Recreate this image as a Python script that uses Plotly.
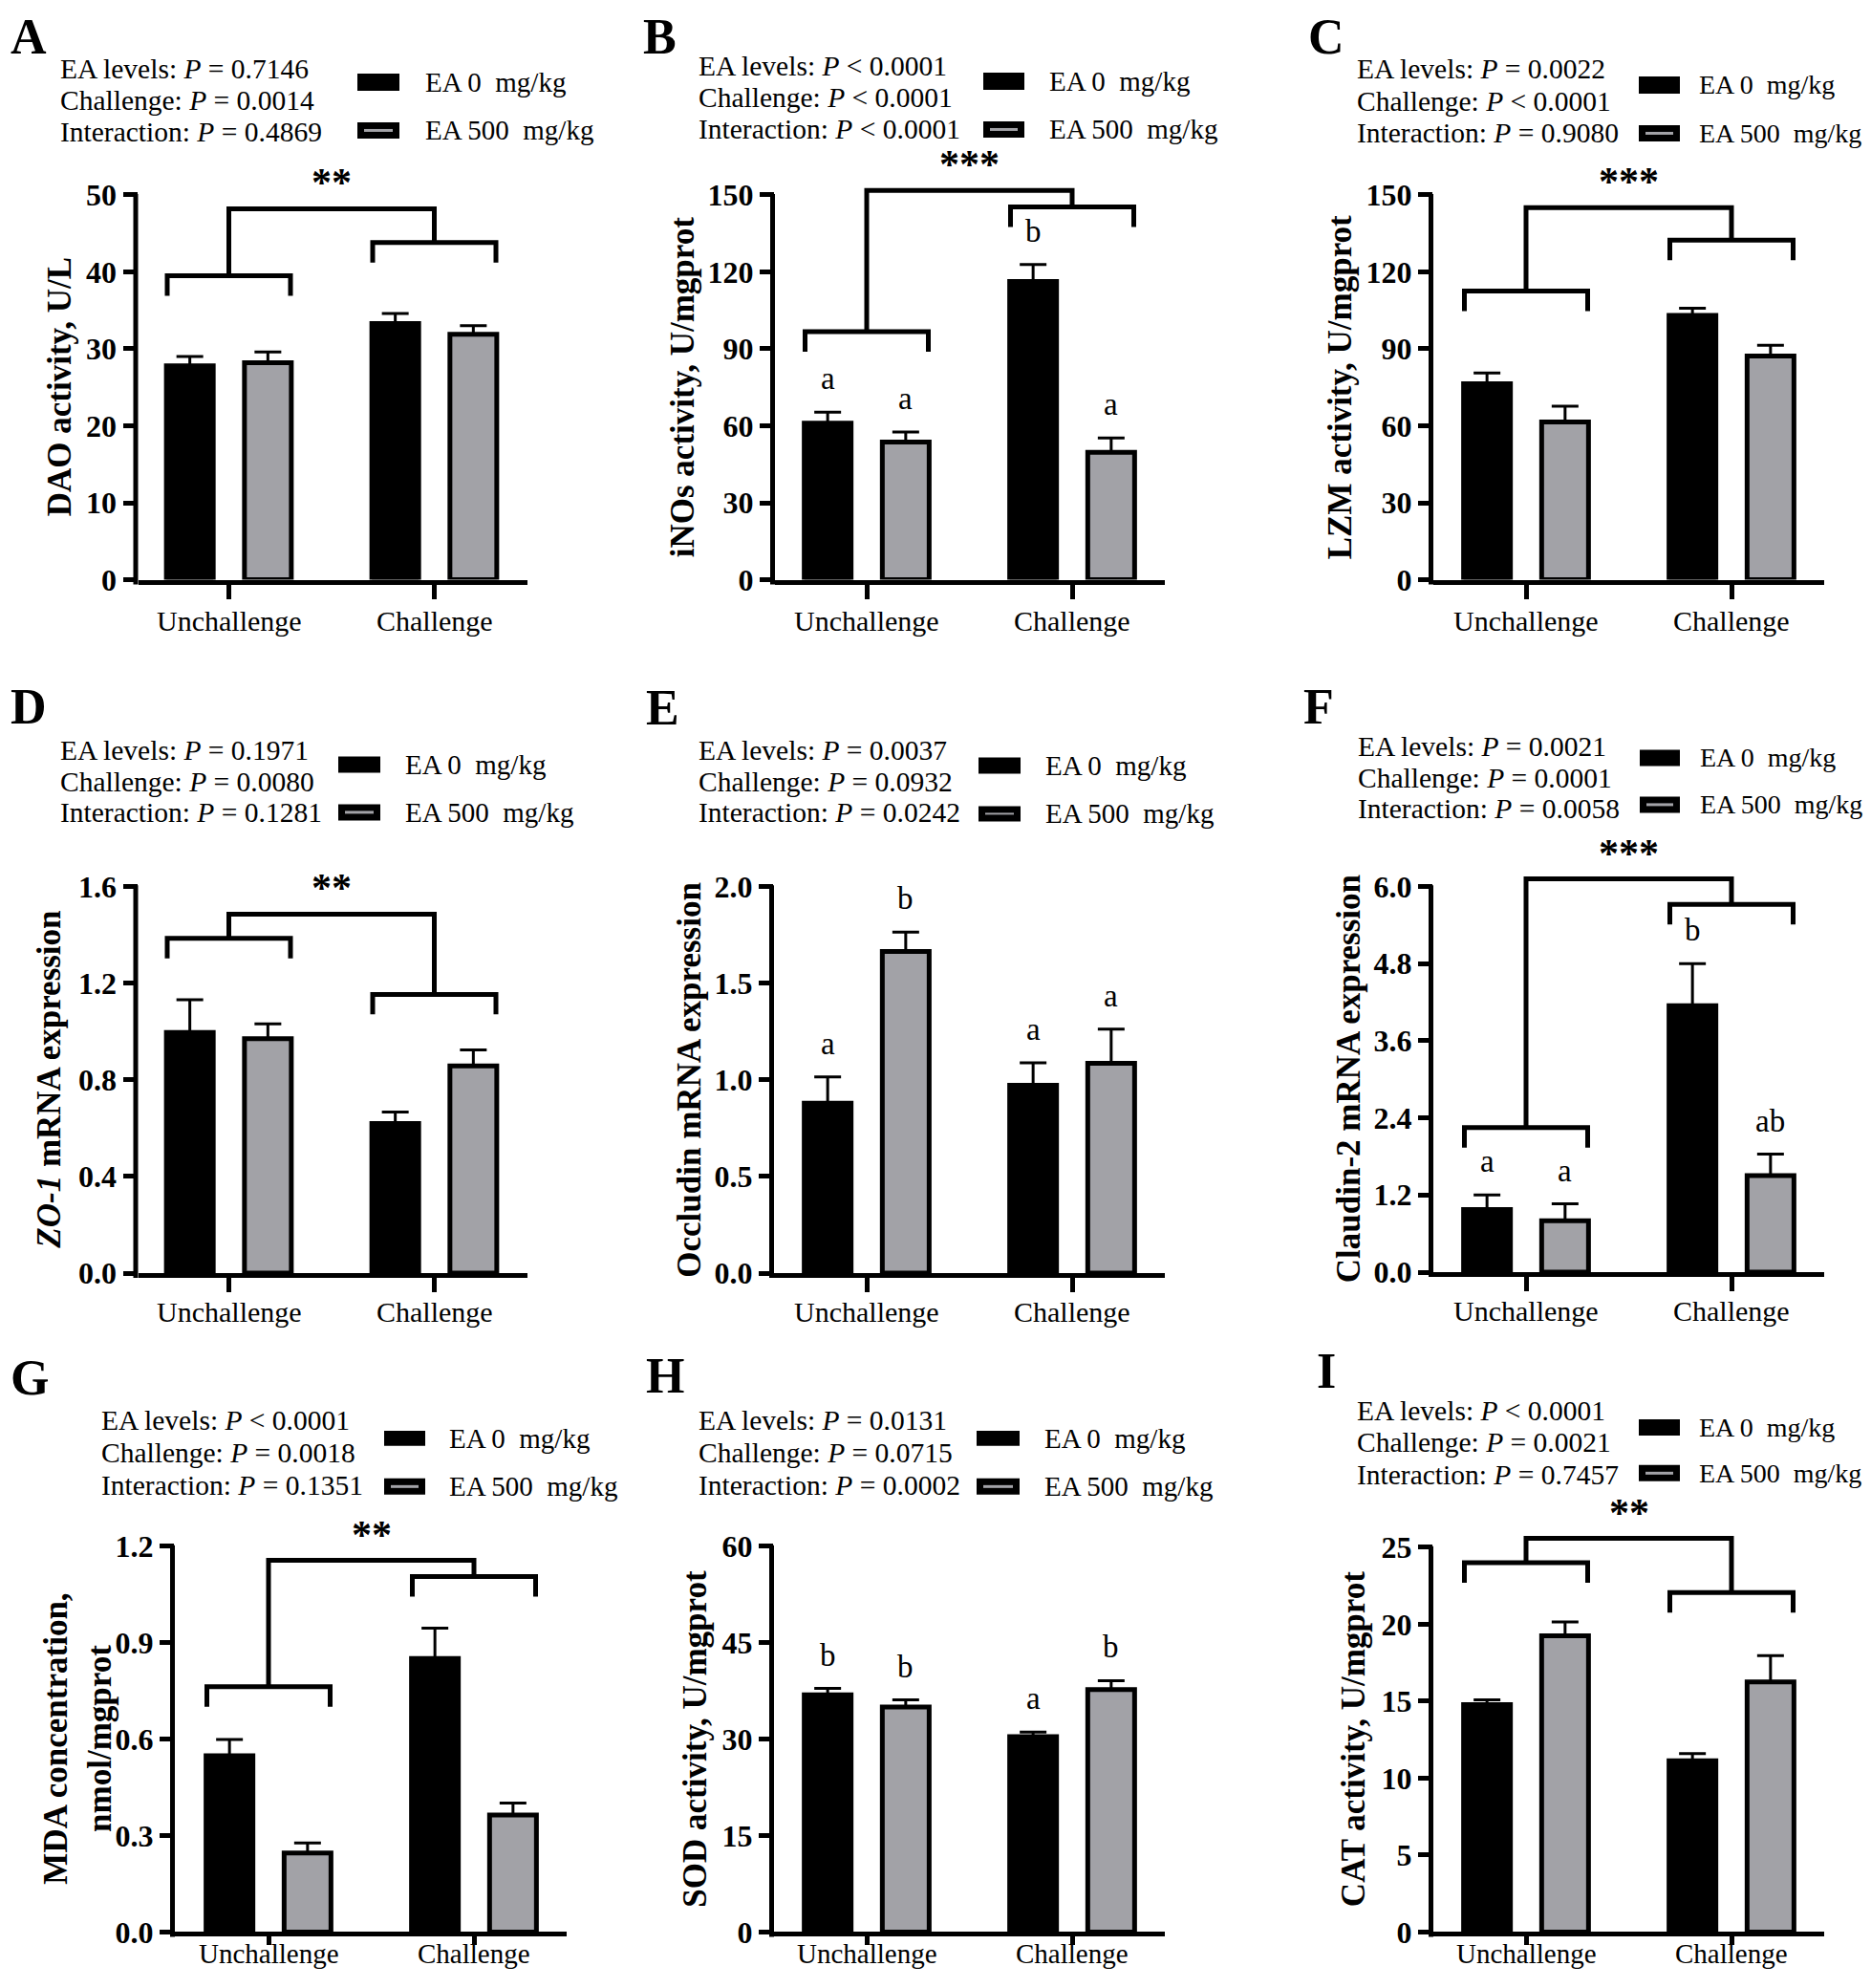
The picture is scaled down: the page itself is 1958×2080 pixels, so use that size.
import plotly.graph_objects as go

# The page body keeps its default 8 px margin; the figure fills the rest of the
# window. A small vertical factor compensates the slight squeeze seen on capture.
OFF = 8
WIN_W, WIN_H = 1958, 2080
W, H = WIN_W - 2 * OFF, WIN_H - 2 * OFF
VS = 1.008
FONT = "Liberation Serif"
GRAY = "#a2a2a7"

# ---------------- data ----------------
categories = ["Unchallenge", "Challenge"]
group_names = ["EA 0\u00a0 mg/kg", "EA 500\u00a0 mg/kg"]
p_labels = ["EA levels:", "Challenge:", "Interaction:"]

# A  DAO activity, U/L
dao_ea0 = [27.8, 33.3]
dao_ea0_sem = [1.2, 1.3]
dao_ea500 = [28.2, 31.9]
dao_ea500_sem = [1.4, 1.1]
dao_p = ["= 0.7146", "= 0.0014", "= 0.4869"]
dao_ticks = [0, 10, 20, 30, 40, 50]
dao_ticktext = ["0", "10", "20", "30", "40", "50"]

# B  iNOs activity
inos_ea0 = [61.0, 116.3]
inos_ea0_sem = [4.3, 6.6]
inos_ea500 = [53.7, 49.7]
inos_ea500_sem = [3.9, 5.6]
inos_letters_ea0 = ["a", "b"]
inos_letters_ea500 = ["a", "a"]
inos_p = ["< 0.0001", "< 0.0001", "< 0.0001"]
inos_ticks = [0, 30, 60, 90, 120, 150]
inos_ticktext = ["0", "30", "60", "90", "120", "150"]

# C  LZM activity
lzm_ea0 = [76.4, 103.0]
lzm_ea0_sem = [4.2, 2.8]
lzm_ea500 = [61.5, 87.2]
lzm_ea500_sem = [6.1, 4.2]
lzm_p = ["= 0.0022", "< 0.0001", "= 0.9080"]
lzm_ticks = [0, 30, 60, 90, 120, 150]
lzm_ticktext = ["0", "30", "60", "90", "120", "150"]

# D  ZO-1 mRNA
zo1_ea0 = [0.995, 0.619]
zo1_ea0_sem = [0.136, 0.047]
zo1_ea500 = [0.970, 0.857]
zo1_ea500_sem = [0.061, 0.066]
zo1_p = ["= 0.1971", "= 0.0080", "= 0.1281"]
zo1_ticks = [0, 0.4, 0.8, 1.2, 1.6]
zo1_ticktext = ["0.0", "0.4", "0.8", "1.2", "1.6"]

# E  Occludin mRNA
occ_ea0 = [0.879, 0.971]
occ_ea0_sem = [0.135, 0.116]
occ_ea500 = [1.663, 1.085]
occ_ea500_sem = [0.100, 0.177]
occ_letters_ea0 = ["a", "a"]
occ_letters_ea500 = ["b", "a"]
occ_p = ["= 0.0037", "= 0.0932", "= 0.0242"]
occ_ticks = [0, 0.5, 1.0, 1.5, 2.0]
occ_ticktext = ["0.0", "0.5", "1.0", "1.5", "2.0"]

# F  Claudin-2 mRNA
cld_ea0 = [0.972, 4.142]
cld_ea0_sem = [0.230, 0.656]
cld_ea500 = [0.800, 1.500]
cld_ea500_sem = [0.263, 0.334]
cld_letters_ea0 = ["a", "b"]
cld_letters_ea500 = ["a", "ab"]
cld_p = ["= 0.0021", "= 0.0001", "= 0.0058"]
cld_ticks = [0, 1.2, 2.4, 3.6, 4.8, 6.0]
cld_ticktext = ["0.0", "1.2", "2.4", "3.6", "4.8", "6.0"]

# G  MDA concentration
mda_ea0 = [0.548, 0.851]
mda_ea0_sem = [0.051, 0.094]
mda_ea500 = [0.246, 0.364]
mda_ea500_sem = [0.031, 0.037]
mda_p = ["< 0.0001", "= 0.0018", "= 0.1351"]
mda_ticks = [0, 0.3, 0.6, 0.9, 1.2]
mda_ticktext = ["0.0", "0.3", "0.6", "0.9", "1.2"]

# H  SOD activity
sod_ea0 = [36.9, 30.4]
sod_ea0_sem = [1.0, 0.7]
sod_ea500 = [35.0, 37.7]
sod_ea500_sem = [1.1, 1.4]
sod_letters_ea0 = ["b", "a"]
sod_letters_ea500 = ["b", "b"]
sod_p = ["= 0.0131", "= 0.0715", "= 0.0002"]
sod_ticks = [0, 15, 30, 45, 60]
sod_ticktext = ["0", "15", "30", "45", "60"]

# I  CAT activity
cat_ea0 = [14.77, 11.12]
cat_ea0_sem = [0.31, 0.47]
cat_ea500 = [19.24, 16.25]
cat_ea500_sem = [0.90, 1.70]
cat_p = ["< 0.0001", "= 0.0021", "= 0.7457"]
cat_ticks = [0, 5, 10, 15, 20, 25]
cat_ticktext = ["0", "5", "10", "15", "20", "25"]

# --------------- panel layout (window pixels) ---------------
PANELS = [
    dict(letter="A", lpos=(30, None), title="DAO activity, U/L", tx=62,
         ea0=dao_ea0, ea0s=dao_ea0_sem, ea500=dao_ea500, ea500s=dao_ea500_sem,
         p=dao_p, ticks=dao_ticks, ticktext=dao_ticktext,
         left=144.5, right=552, cat0=239.5, y0=607, ytop=204, lab_y=650, tl=15,
         ptx=(61, [72, 105, 138]), leg=(374, 418, [(77, 95), (128, 145)], 443),
         brackets=(39.5, 43.8, 48.2, "**")),
    dict(letter="B", lpos=(690, None), title="iNOs activity, U/mgprot", tx=714,
         ea0=inos_ea0, ea0s=inos_ea0_sem, ea500=inos_ea500, ea500s=inos_ea500_sem,
         l0=inos_letters_ea0, l1=inos_letters_ea500,
         p=inos_p, ticks=inos_ticks, ticktext=inos_ticktext,
         left=811, right=1219, cat0=907, y0=607, ytop=204, lab_y=650, tl=15,
         ptx=(729, [69, 102, 135]), leg=(1029, 1072, [(76, 94), (127, 144)], 1096),
         brackets=(96.7, 145.3, 151.7, "***")),
    dict(letter="C", lpos=(1388, None), title="LZM activity, U/mgprot", tx=1402,
         ea0=lzm_ea0, ea0s=lzm_ea0_sem, ea500=lzm_ea500, ea500s=lzm_ea500_sem,
         p=lzm_p, ticks=lzm_ticks, ticktext=lzm_ticktext,
         left=1500, right=1909, cat0=1597, y0=607, ytop=204, lab_y=650, tl=15,
         ptx=(1418, [72, 106, 139]), leg=(1715, 1758, [(80, 98), (131, 148)], 1776),
         brackets=(112.5, 132.4, 145.0, "***")),
    dict(letter="D", lpos=(30, 740), title="<i>ZO-1</i> mRNA expression", tx=52,
         ea0=zo1_ea0, ea0s=zo1_ea0_sem, ea500=zo1_ea500, ea500s=zo1_ea500_sem,
         p=zo1_p, ticks=zo1_ticks, ticktext=zo1_ticktext,
         left=144.5, right=552, cat0=239.5, y0=1333, ytop=928, lab_y=1374, tl=15,
         ptx=(61, [786, 819, 851]), leg=(354, 398, [(792, 809), (842, 859)], 422),
         brackets=(1.385, 1.153, 1.485, "**")),
    dict(letter="E", lpos=(693, 741), title="Occludin mRNA expression", tx=722,
         ea0=occ_ea0, ea0s=occ_ea0_sem, ea500=occ_ea500, ea500s=occ_ea500_sem,
         l0=occ_letters_ea0, l1=occ_letters_ea500,
         p=occ_p, ticks=occ_ticks, ticktext=occ_ticktext,
         left=810, right=1219, cat0=907, y0=1333, ytop=928, lab_y=1374, tl=15,
         ptx=(729, [786, 819, 851]), leg=(1024, 1068, [(793, 810), (844, 860)], 1092),
         brackets=None),
    dict(letter="F", lpos=(1380, 740), title="Claudin-2 mRNA expression", tx=1411,
         ea0=cld_ea0, ea0s=cld_ea0_sem, ea500=cld_ea500, ea500s=cld_ea500_sem,
         l0=cld_letters_ea0, l1=cld_letters_ea500,
         p=cld_p, ticks=cld_ticks, ticktext=cld_ticktext,
         left=1500, right=1909, cat0=1597, y0=1332, ytop=928, lab_y=1373, tl=15,
         ptx=(1419, [782, 815, 847]), leg=(1716, 1758, [(785, 802), (834, 851)], 1777),
         brackets=(2.247, 5.72, 6.115, "***")),
    dict(letter="G", lpos=(31, 1443), title="MDA concentration,<br>nmol/mgprot", tx=82,
         ea0=mda_ea0, ea0s=mda_ea0_sem, ea500=mda_ea500, ea500s=mda_ea500_sem,
         p=mda_p, ticks=mda_ticks, ticktext=mda_ticktext,
         left=183, right=593, cat0=281, y0=2023, ytop=1619, lab_y=2046, tl=9,
         ptx=(104, [1487, 1521, 1555]), leg=(402, 445, [(1498, 1514), (1548, 1565)], 468),
         brackets=(0.763, 1.106, 1.156, "**")),
    dict(letter="H", lpos=(696, 1441), title="SOD activity, U/mgprot", tx=728,
         ea0=sod_ea0, ea0s=sod_ea0_sem, ea500=sod_ea500, ea500s=sod_ea500_sem,
         l0=sod_letters_ea0, l1=sod_letters_ea500,
         p=sod_p, ticks=sod_ticks, ticktext=sod_ticktext,
         left=810, right=1219, cat0=907, y0=2023, ytop=1619, lab_y=2046, tl=9,
         ptx=(729, [1487, 1521, 1555]), leg=(1022, 1067, [(1498, 1514), (1548, 1565)], 1091),
         brackets=None),
    dict(letter="I", lpos=(1388, 1436), title="CAT activity, U/mgprot", tx=1416,
         ea0=cat_ea0, ea0s=cat_ea0_sem, ea500=cat_ea500, ea500s=cat_ea500_sem,
         p=cat_p, ticks=cat_ticks, ticktext=cat_ticktext,
         left=1500, right=1909, cat0=1597, y0=2023, ytop=1620, lab_y=2046, tl=9,
         ptx=(1418, [1477, 1510, 1544]), leg=(1715, 1758, [(1486, 1503), (1534, 1551)], 1776),
         brackets=(24.0, 22.06, 25.57, "**")),
]

SP = 215.0       # pixels per category
EXT = 1.09       # headroom above top tick for brackets
HALF = 0.30      # half width of sub-brackets (category units)
DROP_PX = 21
LETTER_PX = 35
STAR_PX = 27
LW = 5


def px2x(v):
    return (v - OFF) / W


def px2y(v):
    return 1 - (v * VS - OFF) / H


fig = go.Figure()
shapes = []
annotations = []
layout = {}
xs = list(range(len(categories)))

for i, p in enumerate(PANELS):
    n = i + 1
    sfx = "" if n == 1 else str(n)
    xref, yref = "x" + sfx, "y" + sfx
    ymax = p["ticks"][-1]
    plot_h = p["y0"] - p["ytop"]
    u_per_px = ymax / plot_h
    top_px = p["y0"] - plot_h * EXT
    col3 = p["left"] > 1400
    row3 = p["y0"] > 1800

    for vals, sem, color, name in [(p["ea0"], p["ea0s"], "black", group_names[0]),
                                   (p["ea500"], p["ea500s"], GRAY, group_names[1])]:
        fig.add_trace(go.Bar(
            x=xs, y=vals, name=name, xaxis=xref, yaxis=yref, showlegend=False,
            marker=dict(color=color, line=dict(color="black", width=LW)),
            error_y=dict(type="data", array=sem, arrayminus=[0] * len(sem),
                         symmetric=False, color="black", thickness=3, width=14),
        ))

    layout["xaxis" + sfx] = dict(
        domain=[px2x(p["left"]), px2x(p["right"])], anchor=yref,
        range=[-(p["cat0"] - p["left"]) / SP, (p["right"] - p["cat0"]) / SP],
        tickvals=xs, showticklabels=False,
        showline=True, linewidth=LW, linecolor="black",
        ticks="outside", ticklen=p["tl"], tickwidth=LW, tickcolor="black",
        showgrid=False, zeroline=False)
    layout["yaxis" + sfx] = dict(
        domain=[px2y(p["y0"]), px2y(top_px)], anchor=xref,
        range=[0, ymax * EXT], tickvals=p["ticks"], ticktext=p["ticktext"],
        showline=False, ticks="outside", ticklen=15, tickwidth=LW, tickcolor="black",
        tickfont=dict(family=FONT, size=32, color="black", weight="bold"),
        showgrid=False, zeroline=False)

    # y axis line (from the x axis up to the top tick)
    shapes.append(dict(type="line", xref="paper", yref="paper",
                       x0=px2x(p["left"] - LW / 2), x1=px2x(p["left"] - LW / 2),
                       y0=px2y(p["y0"] + LW), y1=px2y(p["ytop"] - 1),
                       line=dict(color="black", width=LW)))

    # category labels
    for xi, c in zip(xs, categories):
        annotations.append(dict(xref=xref, yref="paper", x=xi, y=px2y(p["lab_y"]),
                                text=c, showarrow=False, xanchor="center", yanchor="middle",
                                font=dict(family=FONT, size=29 if row3 else 30,
                                          color="black")))

    # y title
    annotations.append(dict(xref="paper", yref="paper",
                            x=px2x(p["tx"]), y=px2y((p["y0"] + p["ytop"]) / 2),
                            text="<b>" + p["title"] + "</b>", textangle=-90,
                            showarrow=False, xanchor="center", yanchor="middle",
                            font=dict(family=FONT, size=35, color="black")))
    # panel letter
    lx, ly = p["lpos"]
    annotations.append(dict(xref="paper", yref="paper",
                            x=px2x(lx), y=1.0 if ly is None else px2y(ly),
                            text="<b>" + p["letter"] + "</b>", showarrow=False,
                            xanchor="center", yanchor="top" if ly is None else "middle",
                            font=dict(family=FONT, size=52, color="black")))
    # p-value lines
    for lab, pv, yy in zip(p_labels, p["p"], p["ptx"][1]):
        annotations.append(dict(xref="paper", yref="paper",
                                x=px2x(p["ptx"][0]), y=px2y(yy),
                                text=f"{lab} <i>P</i> {pv}", showarrow=False,
                                xanchor="left", yanchor="middle",
                                font=dict(family=FONT, size=29.5, color="black")))
    # legend
    bx0, bx1, rows, txx = p["leg"]
    for k, (yt, yb) in enumerate(rows):
        shapes.append(dict(type="rect", xref="paper", yref="paper",
                           x0=px2x(bx0), x1=px2x(bx1), y0=px2y(yb), y1=px2y(yt),
                           fillcolor="black", line=dict(width=0)))
        if k == 1:
            shapes.append(dict(type="rect", xref="paper", yref="paper",
                               x0=px2x(bx0 + 7), x1=px2x(bx1 - 7),
                               y0=px2y(yb - 7), y1=px2y(yt + 7),
                               fillcolor=GRAY, line=dict(width=0)))
        annotations.append(dict(xref="paper", yref="paper",
                                x=px2x(txx), y=px2y((yt + yb) / 2),
                                text=group_names[k], showarrow=False,
                                xanchor="left", yanchor="middle",
                                font=dict(family=FONT, size=28 if col3 else 29,
                                          color="black")))

    # significance letters
    if "l0" in p:
        off = 0.19
        for lets, vals, sem, dx in [(p["l0"], p["ea0"], p["ea0s"], -off),
                                    (p["l1"], p["ea500"], p["ea500s"], off)]:
            for xi, (t, v, s) in enumerate(zip(lets, vals, sem)):
                annotations.append(dict(xref=xref, yref=yref, x=xi + dx,
                                        y=v + s + LETTER_PX * u_per_px,
                                        text=t, showarrow=False,
                                        xanchor="center", yanchor="middle",
                                        font=dict(family=FONT, size=33, color="black")))

    # brackets
    if p["brackets"]:
        yl, yr, yt, stars = p["brackets"]
        drop = DROP_PX * u_per_px
        line = dict(color="black", width=LW)
        for cx, yy in [(0, yl), (1, yr)]:
            shapes.append(dict(type="path", xref=xref, yref=yref, line=line,
                               path=f"M {cx - HALF},{yy - drop} L {cx - HALF},{yy} "
                                    f"L {cx + HALF},{yy} L {cx + HALF},{yy - drop}"))
        shapes.append(dict(type="path", xref=xref, yref=yref, line=line,
                           path=f"M 0,{yl} L 0,{yt} L 1,{yt} L 1,{yr}"))
        annotations.append(dict(xref=xref, yref=yref, x=0.5,
                                y=yt + STAR_PX * u_per_px, text="<b>" + stars + "</b>",
                                showarrow=False, xanchor="center", yanchor="middle",
                                font=dict(family=FONT, size=42, color="black")))

fig.update_layout(
    width=W, height=H, margin=dict(l=0, r=0, t=0, b=0),
    paper_bgcolor="white", plot_bgcolor="white",
    barmode="group", bargap=0.24, bargroupgap=0.40,
    shapes=shapes, annotations=annotations, showlegend=False,
    font=dict(family=FONT, color="black"),
    **layout,
)

fig.write_html("out.html")
